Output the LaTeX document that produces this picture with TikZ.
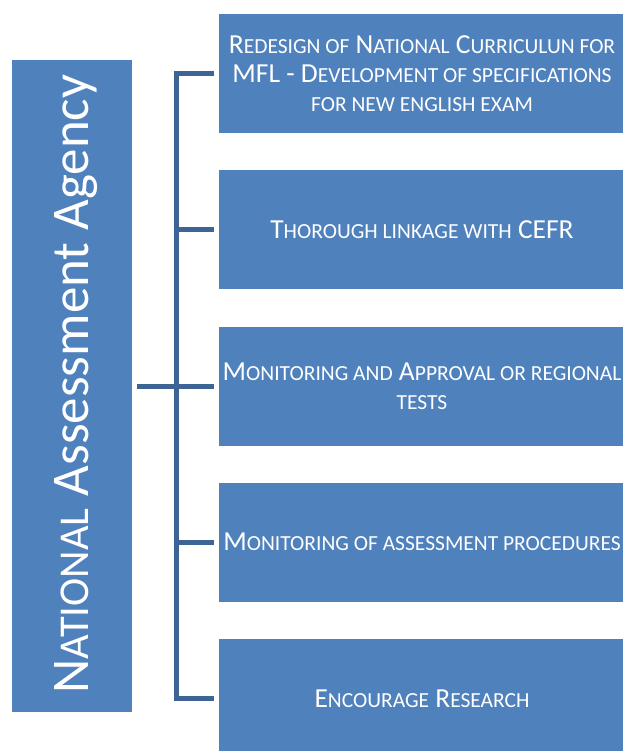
\documentclass[tikz,border=0pt]{standalone}
\usepackage{fontspec}
\setmainfont{Carlito}
\definecolor{boxblue}{RGB}{79,129,189}
\definecolor{linkblue}{RGB}{62,100,150}
\tikzset{
  task/.style={fill=boxblue,text=white,minimum width=406pt,minimum height=119pt,
    align=center,inner sep=0pt,font=\fontsize{27.5pt}{29pt}\selectfont},
  link/.style={draw=linkblue,line width=5pt}
}
\begin{document}
\begin{tikzpicture}[x=1pt,y=-1pt]
\def\m#1{{\fontsize{21.5pt}{29pt}\selectfont #1}}
\def\M#1{{\fontsize{42.5pt}{50pt}\selectfont #1}}
\useasboundingbox (0,0) rectangle (622,751);
\node[fill=boxblue,minimum width=120pt,minimum height=652pt] (agency) at (72,386) {};
\node[rotate=90,anchor=base,text=white,font=\fontsize{53pt}{60pt}\selectfont] (agencytext) at (88,384) {N\M{ATIONAL} Assessment Agency};
\node[task] (b1) at (422,73.5) {R\m{EDESIGN OF} N\m{ATIONAL} C\m{URRICULUN FOR}\\ MFL - D\m{EVELOPMENT OF SPECIFICATIONS}\\ \m{FOR NEW ENGLISH EXAM}};
\node[task] (b2) at (422,229.75) {T\m{HOROUGH LINKAGE WITH} CEFR};
\node[task] (b3) at (422,386) {M\m{ONITORING AND} A\m{PPROVAL OR REGIONAL}\\ \m{TESTS}};
\node[task] (b4) at (422,542.25) {M\m{ONITORING OF ASSESSMENT PROCEDURES}};
\node[task] (b5) at (422,698.5) {E\m{NCOURAGE} R\m{ESEARCH}};
\coordinate (bus) at (176,386);
\draw[link] ([xshift=5pt]agency.east) -- (bus); %agency
\draw[link] ([xshift=-5pt]b1.west) -| (bus);
\draw[link] ([xshift=-5pt]b2.west) -| (bus);
\draw[link] ([xshift=-5pt]b3.west) -- (bus);
\draw[link] ([xshift=-5pt]b4.west) -| (bus);
\draw[link] ([xshift=-5pt]b5.west) -| (bus);
\end{tikzpicture}
\end{document}
